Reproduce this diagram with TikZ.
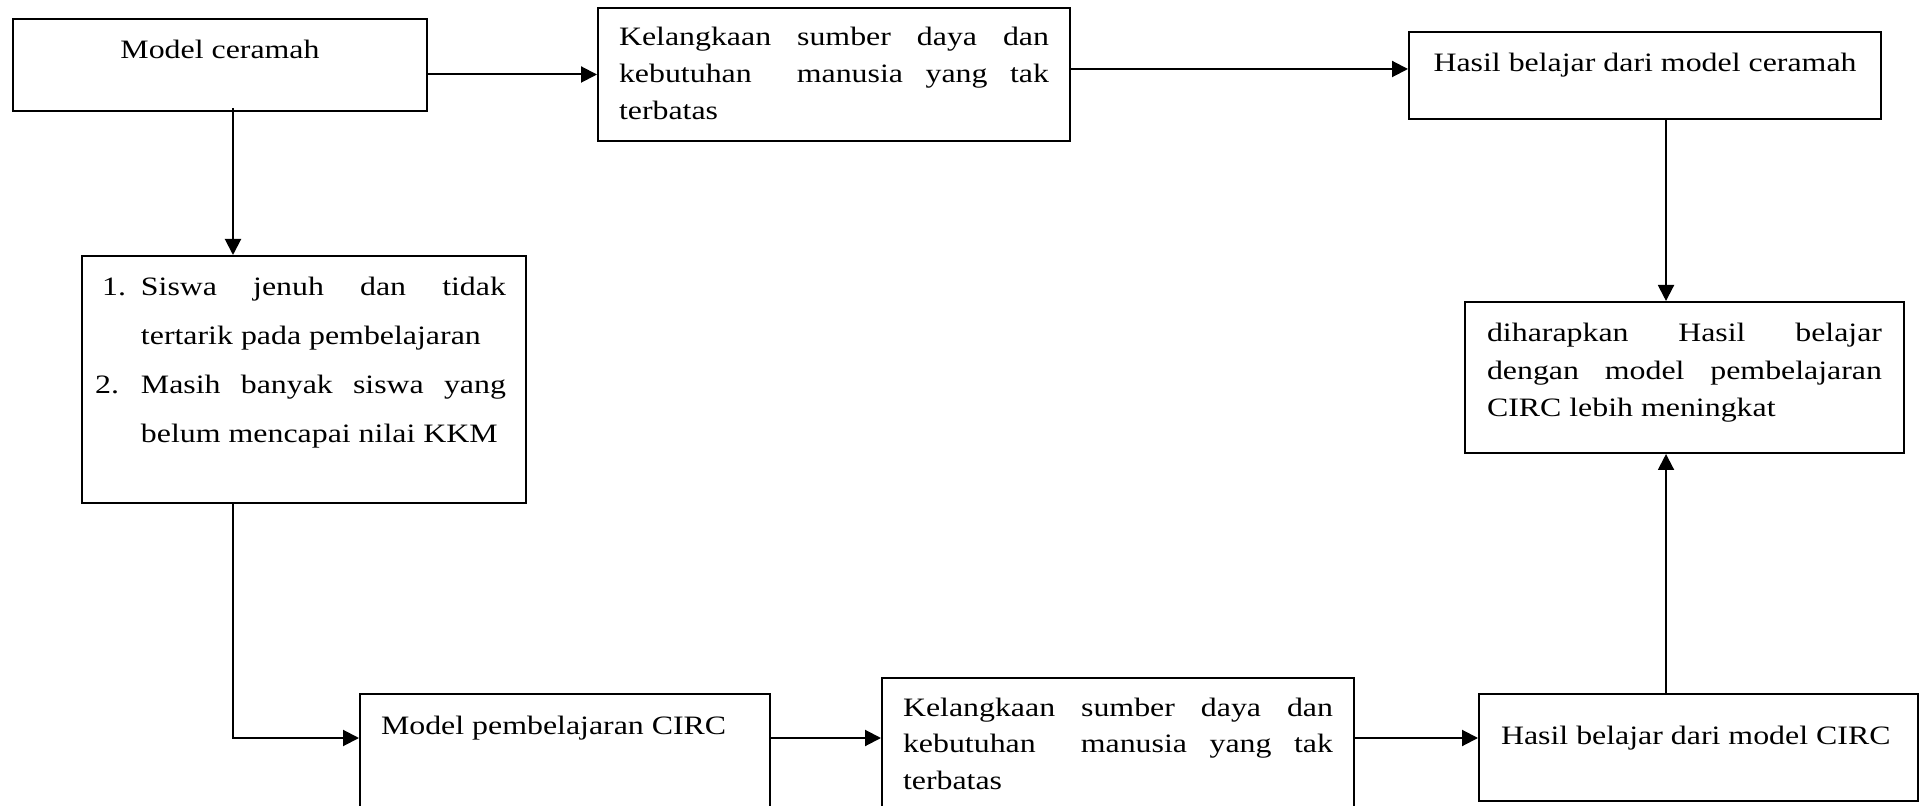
\documentclass[tikz,border=0pt]{standalone}
\usepackage{fontspec}
\setmainfont{Liberation Serif}[FakeStretch=1.2]
\usetikzlibrary{arrows.meta}
\newcommand\jl[2][\linewidth]{\hbox to #1{#2}}
\begin{document}
\begin{tikzpicture}[x=0.5pt,y=-0.5pt,
  boxnode/.style={draw,line width=1pt,rectangle,inner sep=0pt,anchor=north west,font=\fontsize{13.28pt}{16pt}\selectfont},
  arr/.style={line width=1pt,-{Triangle[length=8pt,width=8pt]}}]
\useasboundingbox (0,0) rectangle (1921,806);
\fill[white] (0,0) rectangle (1921,806);

\node[boxnode] (A) at (12,18) {\parbox[c][46pt][t]{207pt}{\centering\rule{0pt}{20pt}Model ceramah}};

\node[boxnode,inner xsep=10.5pt] (B) at (597,7) {\parbox[c][66.5pt][t]{215pt}{\baselineskip=18.5pt
\jl{\rule{0pt}{19pt}Kelangkaan\hfill sumber\hfill daya\hfill dan}
\jl{kebutuhan\hfill\hfill manusia\hfill yang\hfill tak}
\jl{terbatas\hfill}}};

\node[boxnode] (C) at (1408,31) {\parbox[c][43.5pt][t]{236pt}{\centering\rule{0pt}{20pt}Hasil belajar dari model ceramah}};

\node[boxnode,inner xsep=11pt] (D) at (1464,301) {\parbox[c][75.5pt][t]{197.5pt}{\baselineskip=18.75pt
\jl{\rule{0pt}{20pt}diharapkan\hfill Hasil\hfill belajar}
\jl{dengan\hfill model\hfill pembelajaran}
\jl{CIRC lebih meningkat\hfill}}};

\node[boxnode] (F) at (81,255) {\parbox[c][123.5pt][t]{222pt}{\baselineskip=24.5pt
\jl{\hspace*{29.5pt}\rule{0pt}{20pt}\llap{1.\hspace*{7.5pt}}Siswa\hfill jenuh\hfill dan\hfill tidak\hspace*{10pt}}
\jl{\hspace*{29.5pt}tertarik pada pembelajaran\hfill}
\jl{\hspace*{29.5pt}\llap{2.\hspace*{11pt}}Masih\hfill banyak\hfill siswa\hfill yang\hspace*{10pt}}
\jl{\hspace*{29.5pt}belum mencapai nilai KKM\hfill}}};

\node[boxnode] (G) at (359,693) {\parbox[c][73.5pt][t]{205pt}{\jl{\hspace*{10.5pt}\rule{0pt}{20pt}Model pembelajaran CIRC\hfill}}};

\node[boxnode,inner xsep=10.5pt] (H) at (881,677) {\parbox[c][81.5pt][t]{215pt}{\baselineskip=18.25pt
\jl{\rule{0pt}{19pt}Kelangkaan\hfill sumber\hfill daya\hfill dan}
\jl{kebutuhan\hfill\hfill manusia\hfill yang\hfill tak}
\jl{terbatas\hfill}}};

\node[boxnode] (E) at (1478,693) {\parbox[c][53.5pt][t]{219.5pt}{\jl{\hspace*{11pt}\rule{0pt}{25pt}Hasil belajar dari model CIRC\hfill}}};

\coordinate (xL) at (233,0);
\coordinate (xR) at (1666,0);
\coordinate (yT) at (0,69);
\coordinate (yB) at (0,738);

\draw[arr] (A.east |- B.west) -- (B.west);
\draw[arr] ([yshift=2pt]A.south -| xL) -- (F.north -| xL);
\draw[arr] (B.east |- yT) -- (C.west |- yT);
\draw[arr] (C.south -| xR) -- (D.north -| xR);
\draw[arr] (F.south -| xL) |- (G.west |- yB);
\draw[arr] (G.east |- yB) -- (H.west |- yB);
\draw[arr] (H.east |- yB) -- (E.west |- yB);
\draw[arr] (E.north -| xR) -- (D.south -| xR);
\end{tikzpicture}
\end{document}
